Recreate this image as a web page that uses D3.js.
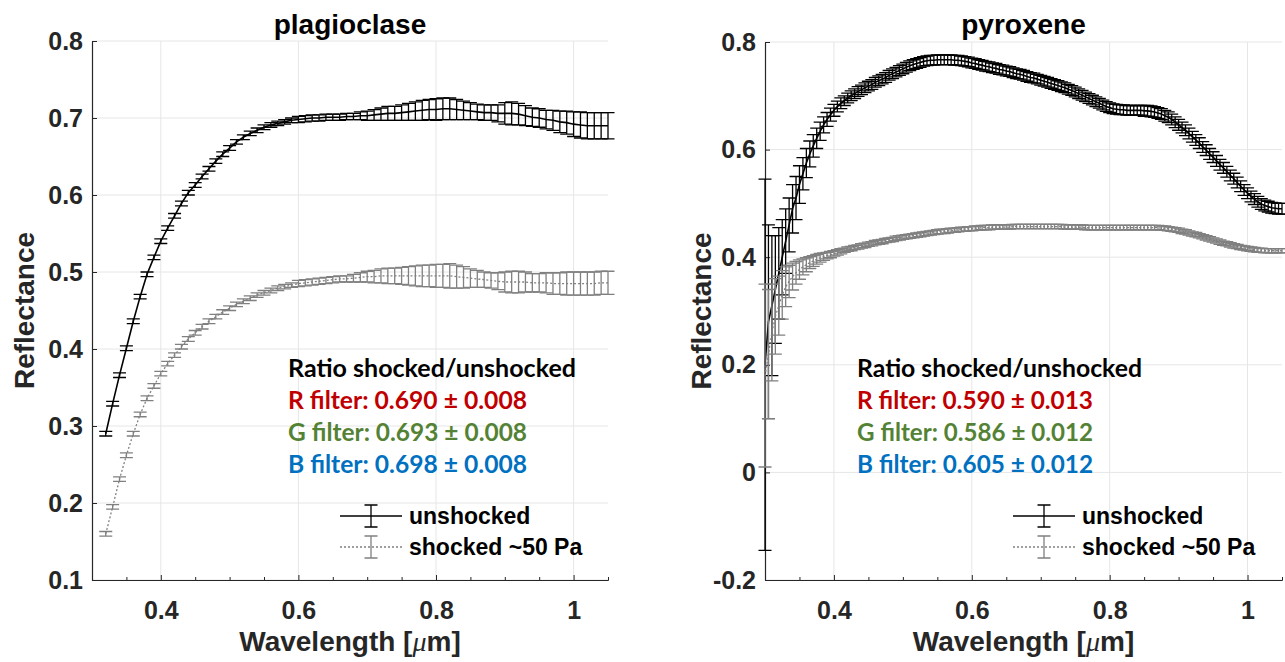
<!DOCTYPE html>
<html>
<head>
<meta charset="utf-8">
<script src="https://cdn.jsdelivr.net/npm/d3@7"></script>
<style>
  body { margin: 0; background: #fff; }
  svg { display: block; }
  .tick text { font-family: "Liberation Sans", Arial, sans-serif; font-weight: bold; font-size: 25px; fill: #262626; }
  .axis path.domain { stroke: #262626; stroke-width: 1.2; }
  .axis .tick line { stroke: #262626; stroke-width: 1; }
  .lbl { font-family: "Liberation Sans", Arial, sans-serif; font-weight: bold; fill: #262626; }
  .note { font-family: Lato, "Open Sans", sans-serif; font-weight: bold; font-size: 24px; }
</style>
</head>
<body>
<div id="chart"></div>
<script>
// ---- data ----
const plagWl = [
  0.32,0.33,0.34,0.35,0.36,0.37,0.38,0.39,0.40,0.41,
  0.42,0.43,0.44,0.45,0.46,0.47,0.48,0.49,0.50,0.51,
  0.52,0.53,0.54,0.55,0.56,0.57,0.58,0.59,0.60,0.61,
  0.62,0.63,0.64,0.65,0.66,0.67,0.68,0.69,0.70,0.71,
  0.72,0.73,0.74,0.75,0.76,0.77,0.78,0.79,0.80,0.81,
  0.82,0.83,0.84,0.85,0.86,0.87,0.88,0.89,0.90,0.91,
  0.92,0.93,0.94,0.95,0.96,0.97,0.98,0.99,1.00,1.01,
  1.02,1.03,1.04,1.05];
const plagUnshocked = [
  0.290,0.329,0.366,0.401,0.436,0.468,0.497,0.519,0.540,0.557,
  0.573,0.589,0.603,0.613,0.624,0.634,0.644,0.653,0.661,0.669,
  0.675,0.680,0.684,0.688,0.691,0.693,0.695,0.697,0.698,0.699,
  0.700,0.700,0.701,0.701,0.701,0.702,0.702,0.703,0.703,0.704,
  0.705,0.706,0.706,0.707,0.708,0.709,0.710,0.711,0.711,0.712,
  0.712,0.711,0.710,0.709,0.708,0.707,0.707,0.706,0.706,0.706,
  0.705,0.703,0.701,0.700,0.698,0.697,0.695,0.694,0.692,0.691,
  0.690,0.690,0.690,0.690];
const plagUnshockedErr = [
  0.003,0.003,0.003,0.003,0.003,0.003,0.003,0.003,0.003,0.003,
  0.003,0.003,0.003,0.003,0.003,0.003,0.003,0.003,0.003,0.003,
  0.003,0.003,0.003,0.003,0.003,0.003,0.003,0.003,0.004,0.004,
  0.004,0.004,0.004,0.004,0.004,0.004,0.004,0.005,0.006,0.007,
  0.008,0.009,0.009,0.010,0.011,0.012,0.013,0.013,0.014,0.014,
  0.014,0.013,0.012,0.011,0.010,0.010,0.010,0.011,0.014,0.015,
  0.014,0.013,0.012,0.012,0.012,0.013,0.014,0.015,0.016,0.017,
  0.017,0.017,0.017,0.017];
const plagShocked = [
  0.160,0.195,0.231,0.262,0.290,0.315,0.336,0.352,0.368,0.381,
  0.392,0.403,0.413,0.421,0.429,0.436,0.442,0.448,0.453,0.458,
  0.462,0.466,0.470,0.473,0.476,0.479,0.481,0.483,0.485,0.486,
  0.487,0.488,0.489,0.490,0.491,0.491,0.492,0.493,0.494,0.494,
  0.495,0.495,0.495,0.495,0.495,0.495,0.495,0.495,0.495,0.495,
  0.495,0.494,0.493,0.492,0.491,0.490,0.489,0.488,0.487,0.487,
  0.487,0.487,0.486,0.486,0.486,0.485,0.485,0.485,0.485,0.485,
  0.485,0.485,0.486,0.486];
const plagShockedErr = [
  0.003,0.003,0.003,0.003,0.003,0.003,0.003,0.003,0.003,0.003,
  0.003,0.003,0.003,0.003,0.003,0.003,0.003,0.003,0.003,0.003,
  0.003,0.003,0.003,0.003,0.003,0.003,0.003,0.003,0.004,0.004,
  0.004,0.004,0.004,0.004,0.004,0.004,0.005,0.006,0.007,0.008,
  0.009,0.010,0.010,0.011,0.012,0.013,0.014,0.014,0.015,0.015,
  0.016,0.015,0.014,0.012,0.011,0.010,0.010,0.011,0.013,0.014,
  0.014,0.013,0.012,0.012,0.013,0.014,0.014,0.015,0.015,0.015,
  0.015,0.015,0.015,0.015];

const pyxWl = [
  0.300,0.305,0.310,0.315,0.320,0.325,0.330,0.335,0.340,0.345,
  0.350,0.355,0.360,0.365,0.370,0.375,0.380,0.385,0.390,0.395,
  0.400,0.405,0.410,0.415,0.420,0.425,0.430,0.435,0.440,0.445,
  0.450,0.455,0.460,0.465,0.470,0.475,0.480,0.485,0.490,0.495,
  0.500,0.505,0.510,0.515,0.520,0.525,0.530,0.535,0.540,0.545,
  0.550,0.555,0.560,0.565,0.570,0.575,0.580,0.585,0.590,0.595,
  0.600,0.605,0.610,0.615,0.620,0.625,0.630,0.635,0.640,0.645,
  0.650,0.655,0.660,0.665,0.670,0.675,0.680,0.685,0.690,0.695,
  0.700,0.705,0.710,0.715,0.720,0.725,0.730,0.735,0.740,0.745,
  0.750,0.755,0.760,0.765,0.770,0.775,0.780,0.785,0.790,0.795,
  0.800,0.805,0.810,0.815,0.820,0.825,0.830,0.835,0.840,0.845,
  0.850,0.855,0.860,0.865,0.870,0.875,0.880,0.885,0.890,0.895,
  0.900,0.905,0.910,0.915,0.920,0.925,0.930,0.935,0.940,0.945,
  0.950,0.955,0.960,0.965,0.970,0.975,0.980,0.985,0.990,0.995,
  1.000,1.005,1.010,1.015,1.020,1.025,1.030,1.035,1.040,1.045,
  1.050];
const pyxUnshocked = [
  0.200,0.280,0.310,0.340,0.370,0.400,0.430,0.460,0.490,0.510,
  0.535,0.555,0.575,0.592,0.607,0.621,0.634,0.646,0.656,0.665,
  0.673,0.680,0.686,0.691,0.696,0.700,0.704,0.708,0.711,0.715,
  0.718,0.721,0.725,0.728,0.731,0.734,0.738,0.741,0.744,0.747,
  0.750,0.753,0.756,0.758,0.760,0.762,0.764,0.765,0.766,0.766,
  0.767,0.767,0.767,0.767,0.767,0.766,0.766,0.765,0.764,0.763,
  0.761,0.760,0.758,0.757,0.755,0.754,0.752,0.751,0.749,0.748,
  0.746,0.745,0.743,0.741,0.740,0.738,0.736,0.734,0.733,0.731,
  0.729,0.727,0.725,0.723,0.721,0.719,0.717,0.715,0.712,0.710,
  0.707,0.704,0.701,0.698,0.695,0.692,0.689,0.686,0.683,0.680,
  0.678,0.676,0.675,0.674,0.674,0.673,0.673,0.673,0.673,0.673,
  0.672,0.672,0.671,0.670,0.668,0.666,0.663,0.660,0.656,0.651,
  0.646,0.641,0.636,0.630,0.624,0.618,0.612,0.605,0.599,0.592,
  0.586,0.579,0.572,0.566,0.559,0.552,0.546,0.539,0.532,0.525,
  0.519,0.513,0.508,0.503,0.499,0.496,0.494,0.492,0.491,0.490,
  0.490];
const pyxUnshockedErr = [
  0.345,0.180,0.130,0.100,0.085,0.070,0.060,0.050,0.045,0.040,
  0.035,0.030,0.027,0.024,0.021,0.019,0.017,0.015,0.013,0.012,
  0.011,0.010,0.010,0.009,0.009,0.009,0.009,0.009,0.009,0.009,
  0.009,0.009,0.009,0.009,0.009,0.009,0.009,0.009,0.009,0.009,
  0.009,0.009,0.009,0.009,0.009,0.009,0.009,0.009,0.009,0.009,
  0.009,0.009,0.009,0.009,0.009,0.009,0.009,0.009,0.009,0.009,
  0.009,0.009,0.009,0.009,0.009,0.009,0.009,0.009,0.009,0.009,
  0.009,0.009,0.009,0.009,0.009,0.009,0.009,0.009,0.009,0.009,
  0.009,0.009,0.009,0.009,0.009,0.009,0.009,0.009,0.009,0.009,
  0.009,0.009,0.009,0.009,0.009,0.009,0.009,0.009,0.009,0.009,
  0.009,0.009,0.009,0.009,0.009,0.009,0.009,0.009,0.009,0.009,
  0.010,0.010,0.010,0.010,0.010,0.010,0.010,0.010,0.010,0.010,
  0.010,0.010,0.010,0.010,0.010,0.010,0.010,0.010,0.010,0.010,
  0.010,0.010,0.010,0.010,0.010,0.010,0.010,0.010,0.010,0.010,
  0.010,0.010,0.010,0.010,0.010,0.010,0.010,0.010,0.010,0.010,
  0.010];
const pyxShocked = [
  0.180,0.220,0.260,0.290,0.310,0.330,0.345,0.355,0.364,0.371,
  0.377,0.382,0.386,0.390,0.393,0.396,0.399,0.401,0.403,0.405,
  0.407,0.409,0.411,0.413,0.415,0.416,0.418,0.419,0.421,0.422,
  0.424,0.425,0.427,0.428,0.429,0.431,0.432,0.433,0.435,0.436,
  0.437,0.438,0.439,0.440,0.441,0.442,0.443,0.444,0.445,0.446,
  0.447,0.448,0.448,0.449,0.450,0.450,0.451,0.452,0.452,0.453,
  0.453,0.454,0.454,0.455,0.455,0.455,0.456,0.456,0.456,0.456,
  0.456,0.456,0.457,0.457,0.457,0.457,0.457,0.457,0.457,0.457,
  0.457,0.457,0.457,0.457,0.457,0.457,0.457,0.456,0.456,0.456,
  0.456,0.456,0.456,0.455,0.455,0.455,0.455,0.455,0.455,0.455,
  0.455,0.455,0.455,0.455,0.455,0.455,0.455,0.455,0.455,0.455,
  0.455,0.455,0.455,0.455,0.455,0.454,0.454,0.453,0.452,0.451,
  0.450,0.448,0.447,0.445,0.443,0.442,0.440,0.438,0.436,0.434,
  0.432,0.430,0.428,0.426,0.425,0.423,0.421,0.420,0.418,0.417,
  0.416,0.415,0.414,0.413,0.413,0.412,0.412,0.412,0.412,0.412,
  0.412];
const pyxShockedErr = [
  0.170,0.120,0.090,0.070,0.055,0.045,0.037,0.030,0.025,0.021,
  0.018,0.015,0.013,0.011,0.010,0.009,0.008,0.007,0.006,0.006,
  0.005,0.005,0.005,0.004,0.004,0.004,0.004,0.004,0.004,0.004,
  0.004,0.004,0.004,0.004,0.004,0.004,0.004,0.004,0.004,0.004,
  0.004,0.004,0.004,0.004,0.004,0.004,0.004,0.004,0.004,0.004,
  0.004,0.004,0.004,0.004,0.004,0.004,0.004,0.004,0.004,0.004,
  0.004,0.004,0.004,0.004,0.004,0.004,0.004,0.004,0.004,0.004,
  0.004,0.004,0.004,0.004,0.004,0.004,0.004,0.004,0.004,0.004,
  0.004,0.004,0.004,0.004,0.004,0.004,0.004,0.004,0.004,0.004,
  0.004,0.004,0.004,0.004,0.004,0.004,0.004,0.004,0.004,0.004,
  0.004,0.004,0.004,0.004,0.004,0.004,0.004,0.004,0.004,0.004,
  0.004,0.004,0.004,0.004,0.004,0.004,0.004,0.004,0.004,0.004,
  0.004,0.004,0.004,0.004,0.004,0.004,0.004,0.004,0.004,0.004,
  0.004,0.004,0.004,0.004,0.004,0.004,0.004,0.004,0.004,0.004,
  0.004,0.004,0.004,0.004,0.004,0.004,0.004,0.004,0.004,0.004,
  0.004];

const xDomain = [0.3, 1.05];
const xMajor = [0.4, 0.6, 0.8, 1.0];
const xMinor = [0.35, 0.45, 0.5, 0.55, 0.65, 0.7, 0.75, 0.85, 0.9, 0.95, 1.05];
const plagYTicks = [0.1, 0.2, 0.3, 0.4, 0.5, 0.6, 0.7, 0.8];
const pyxYTicks = [-0.2, 0, 0.2, 0.4, 0.6, 0.8];

const seriesNames = ["unshocked", "shocked ~50 Pa"];
const filterLabels = ["R filter", "G filter", "B filter"];
const filterColors = ["#c00000", "#548235", "#0070c0"];
const plagRatios = ["0.690 ± 0.008", "0.693 ± 0.008", "0.698 ± 0.008"];
const pyxRatios = ["0.590 ± 0.013", "0.586 ± 0.012", "0.605 ± 0.012"];

// ---- drawing ----
const W = 1285, H = 662;
const svg = d3.select("#chart").append("svg")
    .attr("width", W)
    .attr("height", H);

const styles = [
  {stroke: "#000000", dash: null, lineW: 1.6, barW: 1.3},
  {stroke: "#808080", dash: "2,2", lineW: 1.3, barW: 1.3}
];
const cap = 6.5;

function errPath(px, py1, py2) {
  return `M${px - cap},${py1}H${px + cap}M${px},${py1}V${py2}M${px - cap},${py2}H${px + cap}`;
}

function drawPanel(p) {
  const x = d3.scaleLinear().domain(xDomain).range([p.left, p.right]);
  const y = d3.scaleLinear().domain(p.yDomain).range([p.bottom, p.top]);
  const g = svg.append("g");

  // grid
  g.append("g").selectAll("line").data(xMajor).join("line")
      .attr("x1", d => x(d)).attr("x2", d => x(d))
      .attr("y1", p.top).attr("y2", p.bottom)
      .attr("stroke", "#e6e6e6").attr("stroke-width", 1);
  g.append("g").selectAll("line").data(p.yTicks).join("line")
      .attr("x1", p.left).attr("x2", p.right)
      .attr("y1", d => y(d)).attr("y2", d => y(d))
      .attr("stroke", "#e6e6e6").attr("stroke-width", 1);

  // axes (ticks point inward like matlab)
  g.append("g").attr("class", "axis")
      .attr("transform", `translate(0,${p.bottom})`)
      .call(d3.axisBottom(x).tickValues(xMinor).tickSize(-3).tickSizeOuter(0).tickFormat(""));
  g.append("g").attr("class", "axis")
      .attr("transform", `translate(0,${p.bottom})`)
      .call(d3.axisBottom(x).tickValues(xMajor).tickSize(-5).tickSizeOuter(0).tickPadding(21)
        .tickFormat(d => d === 1 ? "1" : d.toFixed(1)));
  g.append("g").attr("class", "axis")
      .attr("transform", `translate(${p.left},0)`)
      .call(d3.axisLeft(y).tickValues(p.yTicks).tickSize(-5).tickSizeOuter(0).tickPadding(9)
        .tickFormat(d => Math.abs(d) < 1e-9 ? "0" : d.toFixed(1)));

  // series: black first, shocked (grey) on top
  p.series.forEach((s, k) => {
    const st = styles[k];
    const pts = p.wl.map((w, i) => ({w: w, v: s.v[i], e: s.e[i]}));
    g.append("path").datum(pts)
        .attr("fill", "none")
        .attr("stroke", st.stroke)
        .attr("stroke-width", st.lineW)
        .attr("stroke-dasharray", st.dash)
        .attr("d", d3.line().x(d => x(d.w)).y(d => y(d.v)));
    g.append("g").selectAll("path").data(pts).join("path")
        .attr("fill", "none")
        .attr("stroke", st.stroke)
        .attr("stroke-width", st.barW)
        .attr("d", d => errPath(x(d.w), y(d.v + d.e), y(d.v - d.e)));
  });

  // title
  g.append("text").attr("class", "lbl")
      .attr("x", (p.left + p.right) / 2).attr("y", 34)
      .attr("text-anchor", "middle").style("font-size", "28px").style("fill", "#000")
      .text(p.title);

  // axis labels
  const xl = g.append("text").attr("class", "lbl")
      .attr("x", (p.left + p.right) / 2).attr("y", 651)
      .attr("text-anchor", "middle").style("font-size", "28px");
  xl.append("tspan").text("Wavelength [");
  xl.append("tspan").style("font-style", "italic").style("font-weight", "normal")
      .style("font-family", "'Liberation Serif', serif").text("μ");
  xl.append("tspan").text("m]");

  g.append("text").attr("class", "lbl")
      .attr("transform", `translate(${p.yLabelX},${(p.top + p.bottom) / 2}) rotate(-90)`)
      .attr("text-anchor", "middle").style("font-size", "28px")
      .text("Reflectance");

  // ratio note
  const note = g.append("g");
  note.append("text").attr("class", "note")
      .attr("x", p.noteX).attr("y", 377).attr("fill", "#000")
      .attr("textLength", p.noteW[0]).attr("lengthAdjust", "spacingAndGlyphs")
      .text("Ratio shocked/unshocked");
  note.selectAll("text.f").data(p.ratios).join("text")
      .attr("class", "note f")
      .attr("x", p.noteX).attr("y", (d, i) => 409 + i * 32)
      .attr("fill", (d, i) => filterColors[i])
      .attr("textLength", p.noteW[1]).attr("lengthAdjust", "spacingAndGlyphs")
      .text((d, i) => filterLabels[i] + ": " + d);

  // legend
  const lx = p.left + 248;
  const rows = [516, 547];
  seriesNames.forEach((name, k) => {
    const st = styles[k];
    const cy = rows[k];
    g.append("line")
        .attr("x1", lx).attr("x2", lx + 62).attr("y1", cy).attr("y2", cy)
        .attr("stroke", st.stroke).attr("stroke-width", st.lineW)
        .attr("stroke-dasharray", st.dash);
    g.append("path")
        .attr("fill", "none").attr("stroke", st.stroke).attr("stroke-width", st.barW)
        .attr("d", errPath(lx + 31, cy - 11, cy + 11));
    g.append("text").attr("class", "lbl")
        .attr("x", lx + 69).attr("y", cy + 8)
        .style("font-size", "23px").style("fill", "#000")
        .text(name);
  });
}

drawPanel({
  left: 92, right: 608, top: 41, bottom: 580,
  yDomain: [0.1, 0.8], yTicks: plagYTicks, yLabelX: 34,
  title: "plagioclase",
  wl: plagWl,
  series: [{v: plagUnshocked, e: plagUnshockedErr}, {v: plagShocked, e: plagShockedErr}],
  noteX: 288, noteW: [288, 239], ratios: plagRatios
});

drawPanel({
  left: 765, right: 1282, top: 42, bottom: 580,
  yDomain: [-0.2, 0.8], yTicks: pyxYTicks, yLabelX: 711,
  title: "pyroxene",
  wl: pyxWl,
  series: [{v: pyxUnshocked, e: pyxUnshockedErr}, {v: pyxShocked, e: pyxShockedErr}],
  noteX: 857, noteW: [285, 236], ratios: pyxRatios
});
</script>
</body>
</html>
